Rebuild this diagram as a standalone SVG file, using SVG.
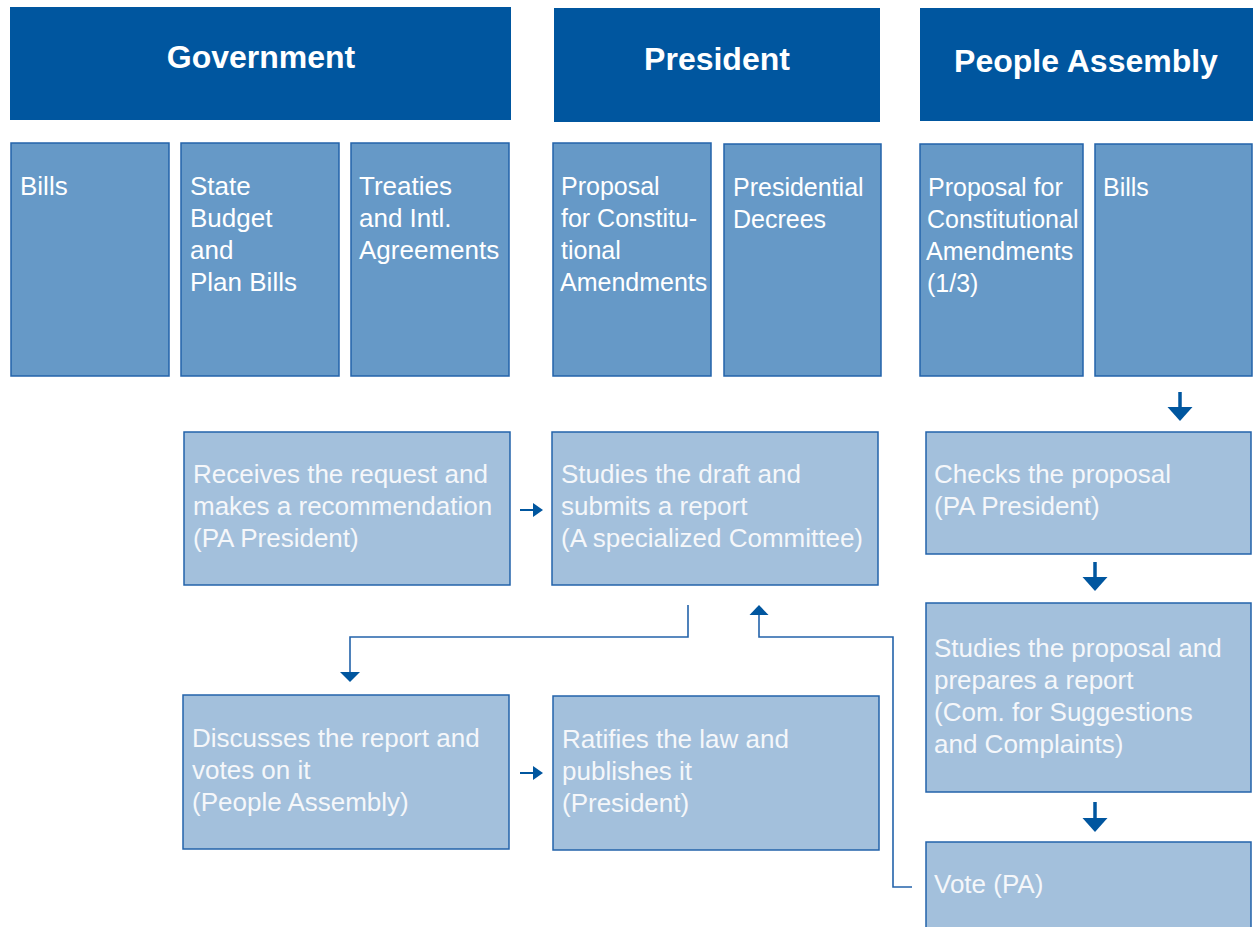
<svg xmlns="http://www.w3.org/2000/svg" width="1256" height="927" viewBox="0 0 1256 927">
<style>
.hdr{fill:#00569f}
.hdrt{fill:#ffffff;font-family:"Liberation Sans",Arial,sans-serif;font-weight:bold;font-size:32px;text-anchor:middle}
.col{fill:#6699c7;stroke:#2363aa;stroke-width:1.5}
.proc{fill:#a3c0dc;stroke:#2363aa;stroke-width:1.5}
.t{fill:#ffffff;font-family:"Liberation Sans",Arial,sans-serif;font-size:26px}
.t25{font-size:25px}
.pt{fill:#f5f7fa;font-family:"Liberation Sans",Arial,sans-serif;font-size:26px}
.ln{fill:none;stroke:#2363aa;stroke-width:1.6}
.sh{fill:none;stroke:#00569f;stroke-width:3.5}
.hd{fill:#00569f}
</style>
<rect width="1256" height="927" fill="#ffffff"/>
<g id="hdr-government"><rect class="hdr" x="10" y="7" width="501" height="113"/><text class="hdrt" x="261" y="68">Government</text></g>
<g id="hdr-president"><rect class="hdr" x="554" y="8" width="326" height="114"/><text class="hdrt" x="717" y="70">President</text></g>
<g id="hdr-pa"><rect class="hdr" x="920" y="8" width="333" height="113"/><text class="hdrt" x="1086" y="72">People Assembly</text></g>

<g id="gov-bills"><rect class="col" x="11" y="143" width="158" height="233"/><text class="t" x="20" y="195">Bills</text></g>
<g id="gov-budget"><rect class="col" x="181" y="143" width="158" height="233"/><text class="t" x="190" y="195">State<tspan x="190" dy="32">Budget</tspan><tspan x="190" dy="32">and</tspan><tspan x="190" dy="32">Plan Bills</tspan></text></g>
<g id="gov-treaties"><rect class="col" x="351" y="143" width="158" height="233"/><text class="t" x="359" y="195">Treaties<tspan x="359" dy="32">and Intl.</tspan><tspan x="359" dy="32">Agreements</tspan></text></g>
<g id="pres-proposal"><rect class="col" x="553" y="143" width="158" height="233"/><text class="t t25" x="561" y="195">Proposal<tspan x="561" dy="32">for Constitu-</tspan><tspan x="561" dy="32">tional</tspan><tspan x="560" dy="32">Amendments</tspan></text></g>
<g id="pres-decrees"><rect class="col" x="724" y="144" width="157" height="232"/><text class="t t25" x="733" y="196">Presidential<tspan x="733" dy="32">Decrees</tspan></text></g>
<g id="pa-proposal"><rect class="col" x="920" y="144" width="163" height="232"/><text class="t t25" x="928" y="196">Proposal for<tspan x="927" dy="32">Constitutional</tspan><tspan x="926" dy="32">Amendments</tspan><tspan x="927" dy="32">(1/3)</tspan></text></g>
<g id="pa-bills"><rect class="col" x="1095" y="144" width="157" height="232"/><text class="t t25" x="1103" y="196">Bills</text></g>

<g id="receives"><rect class="proc" x="184" y="432" width="326" height="153"/><text class="pt" x="193" y="483">Receives the request and<tspan x="193" dy="32">makes a recommendation</tspan><tspan x="193" dy="32">(PA President)</tspan></text></g>
<g id="studies-draft"><rect class="proc" x="552" y="432" width="326" height="153"/><text class="pt" x="561" y="483">Studies the draft and<tspan x="561" dy="32">submits a report</tspan><tspan x="561" dy="32">(A specialized Committee)</tspan></text></g>
<g id="checks"><rect class="proc" x="926" y="432" width="325" height="122"/><text class="pt" x="934" y="483">Checks the proposal<tspan x="934" dy="32">(PA President)</tspan></text></g>
<g id="studies-proposal"><rect class="proc" x="926" y="603" width="325" height="189"/><text class="pt" x="934" y="657">Studies the proposal and<tspan x="934" dy="32">prepares a report</tspan><tspan x="934" dy="32">(Com. for Suggestions</tspan><tspan x="934" dy="32">and Complaints)</tspan></text></g>
<g id="vote"><rect class="proc" x="926" y="842" width="325" height="100"/><text class="pt" x="934" y="893">Vote (PA)</text></g>
<g id="discusses"><rect class="proc" x="183" y="695" width="326" height="154"/><text class="pt" x="192" y="747">Discusses the report and<tspan x="192" dy="32">votes on it</tspan><tspan x="192" dy="32">(People Assembly)</tspan></text></g>
<g id="ratifies"><rect class="proc" x="553" y="696" width="326" height="154"/><text class="pt" x="562" y="748">Ratifies the law and<tspan x="562" dy="32">publishes it</tspan><tspan x="562" dy="32">(President)</tspan></text></g>

<g id="connectors">
<line x1="520" y1="510" x2="534" y2="510" stroke="#00569f" stroke-width="2"/>
<polygon class="hd" points="533,503 543,510 533,517"/>
<line x1="520" y1="773" x2="534" y2="773" stroke="#00569f" stroke-width="2"/>
<polygon class="hd" points="533,766 543,773 533,780"/>
<line class="sh" x1="1180" y1="392" x2="1180" y2="409"/>
<polygon class="hd" points="1167.5,407 1192.5,407 1180,421"/>
<line class="sh" x1="1095" y1="562" x2="1095" y2="579"/>
<polygon class="hd" points="1082.5,577 1107.5,577 1095,591"/>
<line class="sh" x1="1095" y1="802" x2="1095" y2="820"/>
<polygon class="hd" points="1082.5,818 1107.5,818 1095,832"/>
<polyline class="ln" points="688,605 688,637 350,637 350,673"/>
<polygon class="hd" points="340,672 360,672 350,682"/>
<polyline class="ln" points="912,887 893,887 893,637 759,637 759,614"/>
<polygon class="hd" points="749.5,615 768.5,615 759,605"/>
</g>
</svg>
